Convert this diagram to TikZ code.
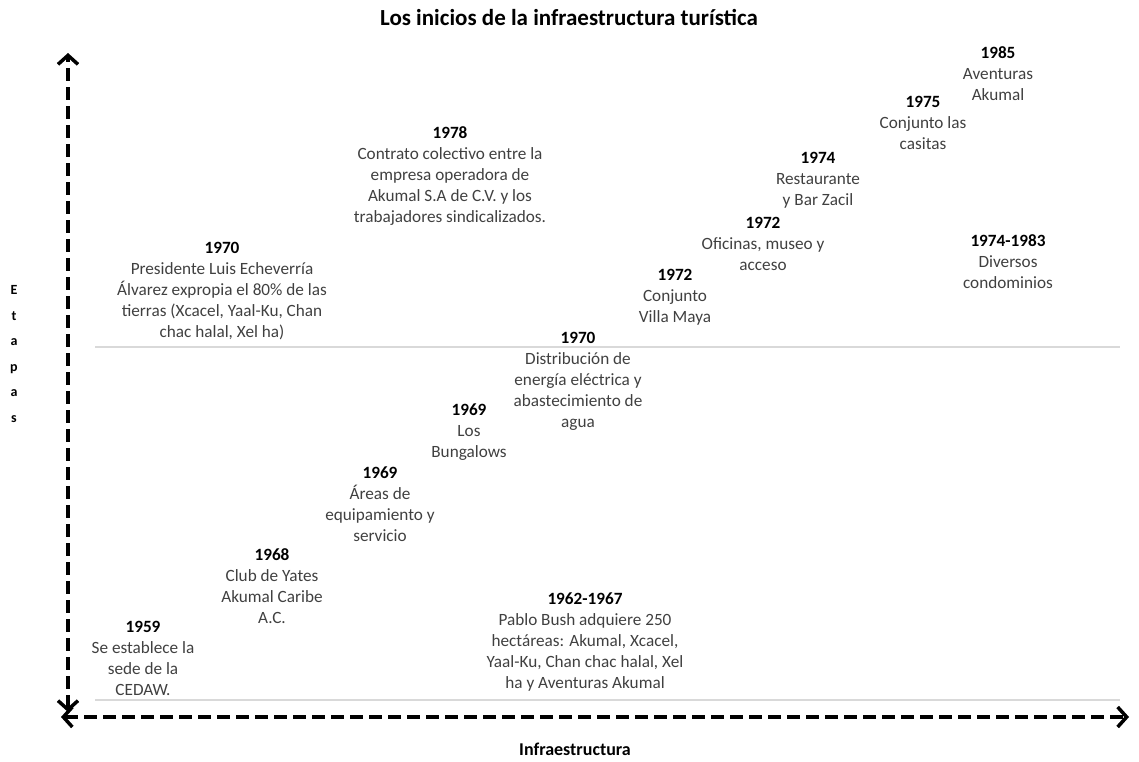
\documentclass[tikz,border=0pt]{standalone}
\usepackage{fontspec}
\setmainfont{Carlito}
\usetikzlibrary{arrows.meta}
\definecolor{cuerpo}{HTML}{404040}
\definecolor{guia}{HTML}{D9D9D9}
\tikzset{
  hito/.style={align=center,anchor=north,inner sep=0pt,text=cuerpo,
    font=\fontsize{17.2}{21}\selectfont},
  eje/.style={line width=4.5pt,dash pattern=on 13pt off 6pt,
    {Straight Barb[length=9pt,width=20pt,line width=3.5pt]}-{Straight Barb[length=9pt,width=20pt,line width=3.5pt]}},
  rotulo/.style={font=\fontsize{18}{21}\selectfont\bfseries,inner sep=0pt}
}
\newcommand{\anio}[1]{\textcolor{black}{\bfseries #1}}
\begin{document}
\begin{tikzpicture}[x=1pt,y=-1pt]
\useasboundingbox (0,0) rectangle (1139,761);

\node[rotulo,font=\fontsize{23}{25}\selectfont\bfseries] (titulo) at (569,17) {Los inicios de la infraestructura turística};

% lineas guia
\draw[guia,line width=2pt] (95,347) -- (1120,347);
\draw[guia,line width=2pt] (95,700) -- (1120,700);

% ejes
\coordinate (ybajo) at (68,712);
\coordinate (yalto) at (68,53);
\coordinate (xizq) at (61,717);
\coordinate (xder) at (1129,717);
\draw[eje] (ybajo) -- (yalto);
\draw[eje] (xizq) -- (xder);

\node[rotulo] (xlabel) at (575,749) {Infraestructura};
\node[rotulo,align=center,font=\fontsize{14}{25.5}\selectfont\bfseries] (ylabel) at (14,354) {E\\t\\a\\p\\a\\s};

% hitos
\node[hito] (h1959) at (143,621) {\anio{1959}\\Se establece la\\sede de la\\CEDAW.};
\node[hito] (h1968) at (272,548) {\anio{1968}\\Club de Yates\\Akumal Caribe\\A.C.};
\node[hito] (h1969a) at (380,467) {\anio{1969}\\Áreas de\\equipamiento y\\servicio};
\node[hito] (h1969b) at (469,404) {\anio{1969}\\Los\\Bungalows};
\node[hito] (h1970b) at (578,332) {\anio{1970}\\Distribución de\\energía eléctrica y\\abastecimiento de\\agua};
\node[hito] (h1972a) at (675,269) {\anio{1972}\\Conjunto\\Villa Maya};
\node[hito] (h1972b) at (763,217) {\anio{1972}\\Oficinas, museo y\\acceso};
\node[hito] (h1974) at (818,152) {\anio{1974}\\Restaurante\\y Bar Zacil};
\node[hito] (h1975) at (923,96) {\anio{1975}\\Conjunto las\\casitas};
\node[hito] (h1985) at (998,46) {\anio{1985}\\Aventuras\\Akumal};
\node[hito] (h7483) at (1008,234) {\anio{1974-1983}\\Diversos\\condominios};
\node[hito] (h1978) at (450,126) {\anio{1978}\\Contrato colectivo entre la\\empresa operadora de\\Akumal S.A de C.V. y los\\trabajadores sindicalizados.};
\node[hito] (h1970a) at (222,242) {\anio{1970}\\Presidente Luis Echeverría\\Álvarez  expropia el 80\%  de las\\tierras (Xcacel, Yaal-Ku, Chan\\chac halal,  Xel ha)};
\node[hito] (h6267) at (585,593) {\anio{1962-1967}\\Pablo Bush adquiere 250\\hectáreas: Akumal, Xcacel,\\Yaal-Ku, Chan chac halal,  Xel\\ha y Aventuras Akumal};
\end{tikzpicture}
\end{document}
